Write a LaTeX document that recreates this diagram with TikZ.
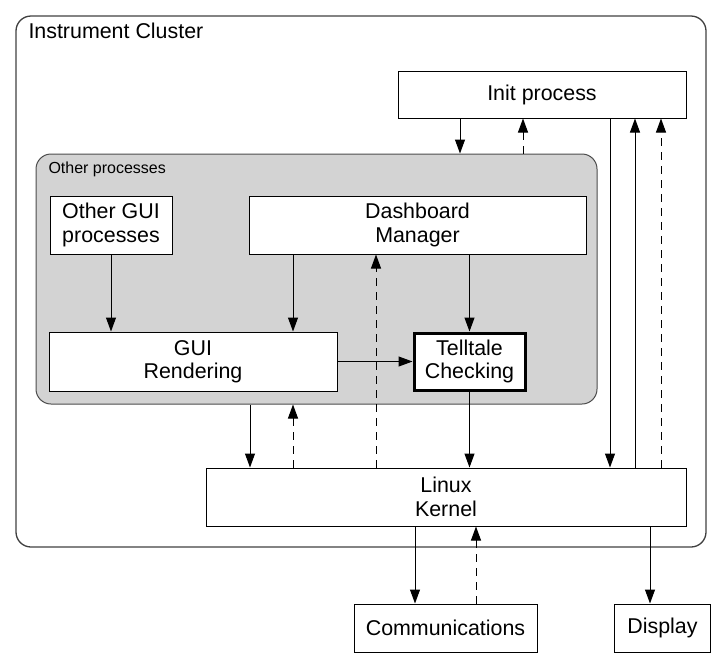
\documentclass[tikz,border=0pt]{standalone}
\usepackage{fontspec}
\setmainfont{Liberation Sans}
\usetikzlibrary{arrows.meta}
\definecolor{procgrey}{RGB}{211,211,211}
\begin{document}
\begin{tikzpicture}[x=1pt,y=-1pt,line width=1pt,
	box/.style={draw,fill=white,align=center,inner sep=0pt,font=\fontsize{21.4}{23.5}\selectfont},
	arr/.style={-{Triangle[length=14pt,width=10pt]}},
	darr/.style={arr,dash pattern=on 8pt off 6pt}]
	\useasboundingbox (0,0) rectangle (723,657);
	\node[draw=black!75,line width=1.3pt,rounded corners=15pt,minimum width=690,minimum height=531] (ic) at (361,281.5) {};
	\node[anchor=base west,inner sep=0pt,font=\fontsize{21.4}{23.5}\selectfont] (icl) at (28,38) {Instrument Cluster};
	\node[box,minimum width=288,minimum height=47] (init) at (542,94.5) {Init process};
	\node[fill=procgrey,draw=black!70,rounded corners=15pt,minimum width=561,minimum height=250] (op) at (316.5,279) {};
	\node[anchor=base west,inner sep=0pt,font=\fontsize{16}{18}\selectfont] (opl) at (48,173) {Other processes};
	\node[box,minimum width=122,minimum height=58] (ogui) at (111,225) {Other GUI\\processes};
	\node[box,minimum width=337,minimum height=58] (dash) at (417.5,225) {Dashboard\\Manager};
	\node[box,minimum width=288,minimum height=59] (gui) at (193,361.5) {GUI\\Rendering};
	\node[box,line width=3pt,minimum width=111,minimum height=57] (tell) at (469.5,361.5) {Telltale\\Checking};
	\node[box,minimum width=480,minimum height=58] (k) at (446,497) {Linux\\Kernel};
	\node[box,minimum width=183,minimum height=48] (com) at (445.5,628) {Communications};
	\node[box,minimum width=96,minimum height=48] (disp) at (662.5,628) {Display};
	% columns of the vertical connectors
	\foreach \n/\x in {c1/250,c2/293,c3/376,c4/415,c5/460,c6/476,c7/523,c8/610,c9/635,c10/650,c11/661}
		\coordinate (\n) at (\x,0);
	\draw[arr] (init.south -| c5) -- (op.north -| c5);
	\draw[darr] (op.north -| c7) -- (init.south -| c7);
	\draw[arr] (ogui.south) -- (ogui.south |- gui.north);
	\draw[arr] (dash.south -| c2) -- (gui.north -| c2);
	\draw[arr] (dash.south -| tell) -- (tell.north);
	\draw[arr] (gui.east) -- (tell.west);
	\draw[darr] (k.north -| c3) -- (dash.south -| c3);
	\draw[arr] (op.south -| c1) -- (k.north -| c1);
	\draw[darr] (k.north -| c2) -- (op.south -| c2);
	\draw[arr] (tell.south) -- (k.north -| tell);
	\draw[arr] (init.south -| c8) -- (k.north -| c8);
	\draw[arr] (k.north -| c9) -- (init.south -| c9);
	\draw[darr] (k.north -| c11) -- (init.south -| c11);
	\draw[arr] (k.south -| c4) -- (com.north -| c4);
	\draw[darr] (com.north -| c6) -- (k.south -| c6);
	\draw[arr] (k.south -| c10) -- (disp.north -| c10);
\end{tikzpicture}
\end{document}
